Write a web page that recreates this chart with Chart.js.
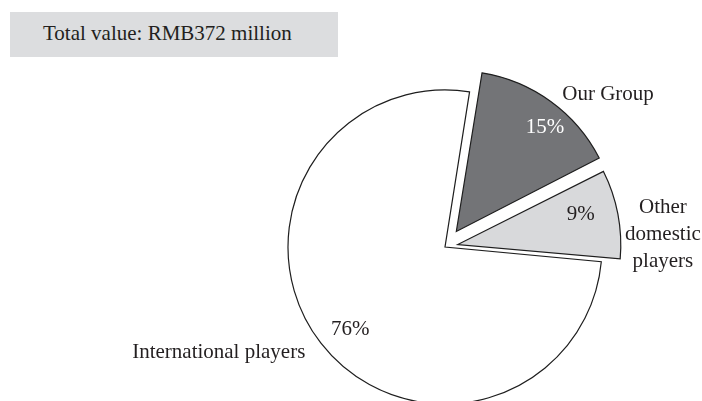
<!DOCTYPE html>
<html>
<head>
<meta charset="utf-8">
<script src="https://cdn.jsdelivr.net/npm/chart.js@4"></script>
<style>
  html, body { margin: 0; padding: 0; background: #ffffff; }
  #wrap { position: relative; width: 702px; height: 401px; overflow: hidden; }
  #total {
    position: absolute; left: 10px; top: 12px; width: 328px; height: 45px;
    background: #dcdddf; color: #231f20;
    font-family: "Liberation Serif", "Times New Roman", serif; font-size: 21px;
    line-height: 43px; box-sizing: border-box; padding-left: 33px; white-space: nowrap;
  }
  canvas { position: absolute; left: 0; top: 0; }
</style>
</head>
<body>
<div id="wrap">
  <canvas id="c" width="702" height="401"></canvas>
  <div id="total">Total value: RMB372 million</div>
</div>
<script>
// ---- data ----
const categories = ['Our Group', 'Other domestic players', 'International players'];
const nameLines = [['Our Group'], ['Other', 'domestic', 'players'], ['International players']];
const shares = [15, 9, 76];
const shareLabels = ['15%', '9%', '76%'];

// ---- styling ----
const fills = ['#737477', '#d8d9db', '#ffffff'];
const pctColors = ['#ffffff', '#231f20', '#231f20'];
const explode = [77, 52, 0];
// label placement: angle shift (deg, from slice bisector) and distance as fraction of radius
const pctPlace = [{ da: 4, r: 0.99 }, { da: -2.8, r: 0.89 }, { da: -3.2, r: 0.80 }];
const namePlace = [{ da: 11, r: 1.42 }, { da: 7.6, r: 1.39 }, { da: 12.8, r: 1.59 }];

const FONT = '21px "Liberation Serif", "Times New Roman", serif';

const labelPlugin = {
  id: 'sliceLabels',
  afterDatasetsDraw(chart) {
    const ctx = chart.ctx;
    const arcs = chart.getDatasetMeta(0).data;
    ctx.save();
    ctx.font = FONT;
    ctx.textAlign = 'center';
    ctx.textBaseline = 'middle';
    arcs.forEach((arc, i) => {
      const mid = (arc.startAngle + arc.endAngle) / 2;
      const R = arc.outerRadius;
      const p = pctPlace[i], n = namePlace[i];
      const a1 = mid + p.da * Math.PI / 180;
      ctx.fillStyle = pctColors[i];
      ctx.fillText(shareLabels[i], arc.x + Math.cos(a1) * R * p.r, arc.y + Math.sin(a1) * R * p.r);
      const a2 = mid + n.da * Math.PI / 180;
      const cx = arc.x + Math.cos(a2) * R * n.r;
      const cy = arc.y + Math.sin(a2) * R * n.r;
      const lines = nameLines[i];
      const lh = 27;
      ctx.fillStyle = '#231f20';
      lines.forEach((ln, k) => {
        ctx.fillText(ln, cx, cy + (k - (lines.length - 1) / 2) * lh);
      });
    });
    ctx.restore();
  }
};

new Chart(document.getElementById('c'), {
  type: 'pie',
  data: {
    labels: categories,
    datasets: [{
      data: shares,
      backgroundColor: fills,
      borderColor: '#1e1e1e',
      borderWidth: 1.2,
      borderJoinStyle: 'miter',
      offset: explode,
      radius: 157,
      clip: false
    }]
  },
  options: {
    responsive: false,
    animation: false,
    devicePixelRatio: 1,
    rotation: 9,
    layout: { padding: { left: 188, right: 0, top: 93, bottom: 0 } },
    plugins: { legend: { display: false }, tooltip: { enabled: false } },
    events: []
  },
  plugins: [labelPlugin]
});
</script>
</body>
</html>
